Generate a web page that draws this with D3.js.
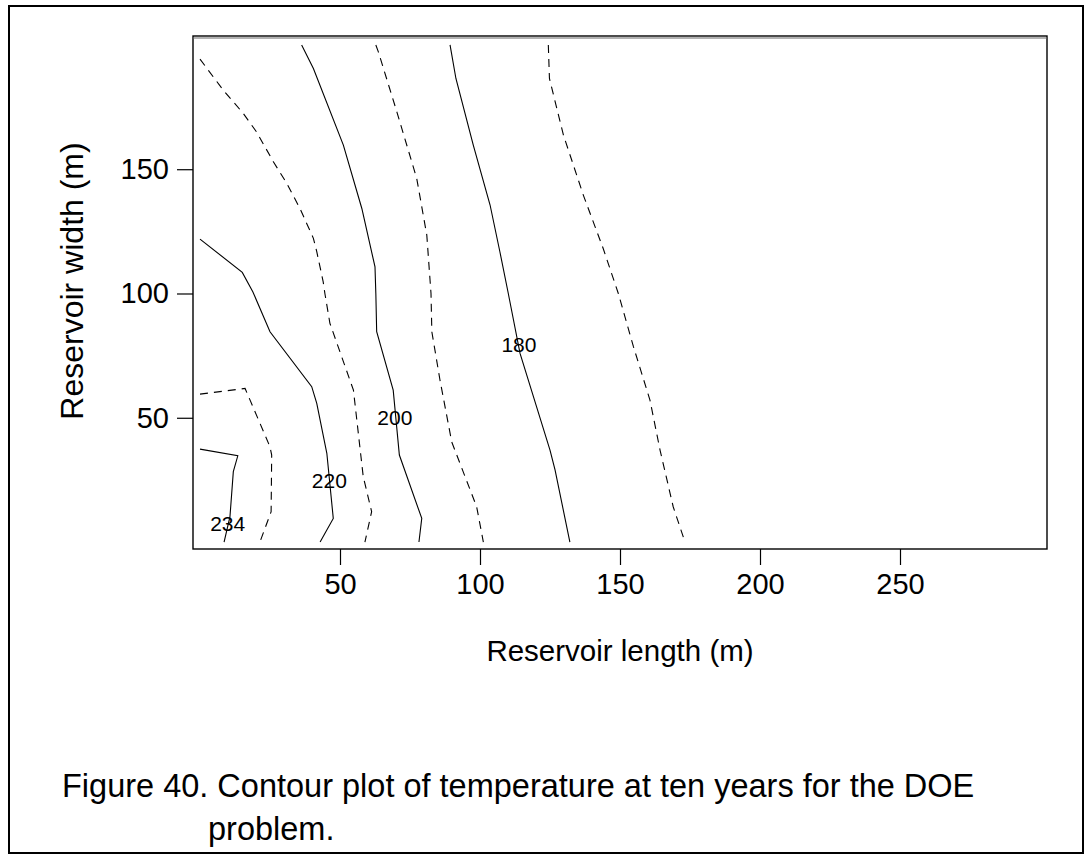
<!DOCTYPE html>
<html>
<head>
<meta charset="utf-8">
<script src="https://cdnjs.cloudflare.com/ajax/libs/d3/7.8.5/d3.min.js"></script>
<style>
  body { margin: 0; background: #fff; }
  text { font-family: "Liberation Sans", Arial, sans-serif; fill: #000; }
</style>
</head>
<body>
<script>
// contour levels, one per line, left to right
var levels = [234, 230, 220, 210, 200, 190, 180, 170];

// contour lines, [length, width] in metres
var line234 = [[0, 37.4], [13.5, 34.7], [11.9, 28.3], [10.7, 10.2], [8.6, 0]];
var line230 = [[0, 59.5], [16.1, 61.8], [25, 38.3], [25.6, 35], [25.4, 12.2], [21.4, 0]];
var line220 = [[0, 121.9], [15.1, 108.5], [18.9, 100.6], [25, 84.6], [39.9, 62.5], [41.7, 55.8],
  [45.3, 35.7], [47.6, 9.5], [42.9, 0]];
var line210 = [[0, 194.3], [8.3, 181.8], [15.5, 172.4], [20.2, 165], [26.2, 153], [31, 144.3],
  [35.7, 134.2], [38.1, 128.2], [40.5, 122.2], [41.7, 116.8], [44, 104.7], [44.6, 100],
  [46.4, 88], [54.8, 61.1], [58.3, 26.3], [61.3, 12.2], [58.9, 0]];
var line200 = [[36.3, 200], [40.5, 190.5], [51.2, 159.7], [57.8, 134.2], [62.5, 110.7],
  [62.8, 100], [63.1, 84.6], [69, 61.1], [71.2, 35], [79.2, 9.5], [78.2, 0]];
var line190 = [[62.8, 200], [63.7, 197.2], [70.3, 173.1], [77.4, 146.3], [81, 123.5],
  [82.5, 100], [82.8, 84.6], [85.7, 65.2], [89.9, 40.3], [98.8, 14.2], [101.2, 0]];
var line180 = [[89.3, 200], [91.4, 186.5], [97.6, 159.7], [103.6, 135.6], [107.1, 116.8],
  [110, 100.6], [114.3, 75.9], [125, 37], [126.8, 29], [132.1, 0]];
var line170 = [[124.4, 200], [124.8, 186.5], [129.8, 163.7], [136.9, 139.6], [144, 118.1],
  [149.4, 100], [154.8, 78.6], [160.7, 57.1], [164.3, 37], [169, 14.2], [173.2, 0]];

// labelled contours and where the label sits
var labelText = ["234", "220", "200", "180"];
var labelPos = [[9.9, 7.5], [46.2, 24.5], [69.6, 50], [113.9, 79.5]];

var xTicks = [50, 100, 150, 200, 250];
var yTicks = [50, 100, 150];

var caption1 = "Figure 40. Contour plot of temperature at ten years for the DOE";
var caption2 = "problem.";

var lines = [line234, line230, line220, line210, line200, line190, line180, line170];

var W = 1086, H = 856;
var svg = d3.select("body").append("svg")
  .attr("width", W)
  .attr("height", H);

// outer frame round the figure
svg.append("rect")
  .attr("x", 9).attr("y", 6)
  .attr("width", 1074).attr("height", 847)
  .attr("fill", "none")
  .attr("stroke", "#000")
  .attr("stroke-width", 2);

var plot = {left: 193, right: 1047, top: 36, bottom: 549};

var x = d3.scaleLinear().domain([-2.5, 302.5]).range([plot.left, plot.right]);
var y = d3.scaleLinear().domain([-2.8, 203.6]).range([plot.bottom, plot.top]);

// plot box
svg.append("rect")
  .attr("x", plot.left).attr("y", plot.top)
  .attr("width", plot.right - plot.left).attr("height", plot.bottom - plot.top)
  .attr("fill", "none")
  .attr("stroke", "#000")
  .attr("stroke-width", 1.4);
svg.append("line")
  .attr("x1", plot.left).attr("x2", plot.right)
  .attr("y1", plot.top + 2).attr("y2", plot.top + 2)
  .attr("stroke", "#666").attr("stroke-width", 1.2);

// axes
var xAxis = svg.append("g")
  .attr("transform", "translate(0," + plot.bottom + ")")
  .call(d3.axisBottom(x).tickValues(xTicks).tickSize(16).tickPadding(8));
var yAxis = svg.append("g")
  .attr("transform", "translate(" + plot.left + ",0)")
  .call(d3.axisLeft(y).tickValues(yTicks).tickSize(16).tickPadding(8));

[xAxis, yAxis].forEach(function(ax) {
  ax.select(".domain").remove();
  ax.selectAll("line").attr("stroke", "#000").attr("stroke-width", 1.2);
  ax.selectAll("text")
    .attr("font-family", "Liberation Sans, Arial, sans-serif")
    .attr("font-size", 29)
    .attr("fill", "#000");
});

// axis titles
svg.append("text")
  .attr("x", (plot.left + plot.right) / 2)
  .attr("y", 661)
  .attr("text-anchor", "middle")
  .attr("font-size", 29.5)
  .text("Reservoir length (m)");

svg.append("text")
  .attr("transform", "translate(83,281) rotate(-90)")
  .attr("text-anchor", "middle")
  .attr("font-size", 32)
  .text("Reservoir width (m)");

// contour lines
var path = d3.line()
  .x(function(d) { return x(d[0]); })
  .y(function(d) { return y(d[1]); });

svg.append("g")
  .selectAll("path")
  .data(lines)
  .join("path")
  .attr("d", path)
  .attr("fill", "none")
  .attr("stroke", "#000")
  .attr("stroke-width", 1.1)
  .attr("stroke-dasharray", function(d, i) { return levels[i] % 20 === 10 ? "8,6" : null; });

// contour labels
svg.append("g")
  .selectAll("text")
  .data(labelText)
  .join("text")
  .attr("x", function(d, i) { return x(labelPos[i][0]); })
  .attr("y", function(d, i) { return y(labelPos[i][1]); })
  .attr("dy", "0.35em")
  .attr("text-anchor", "middle")
  .attr("font-size", 21)
  .text(function(d) { return d; });

// caption
svg.append("text")
  .attr("x", 62).attr("y", 797)
  .attr("font-size", 32.5)
  .text(caption1);
svg.append("text")
  .attr("x", 208).attr("y", 840)
  .attr("font-size", 32.5)
  .text(caption2);
</script>
</body>
</html>
